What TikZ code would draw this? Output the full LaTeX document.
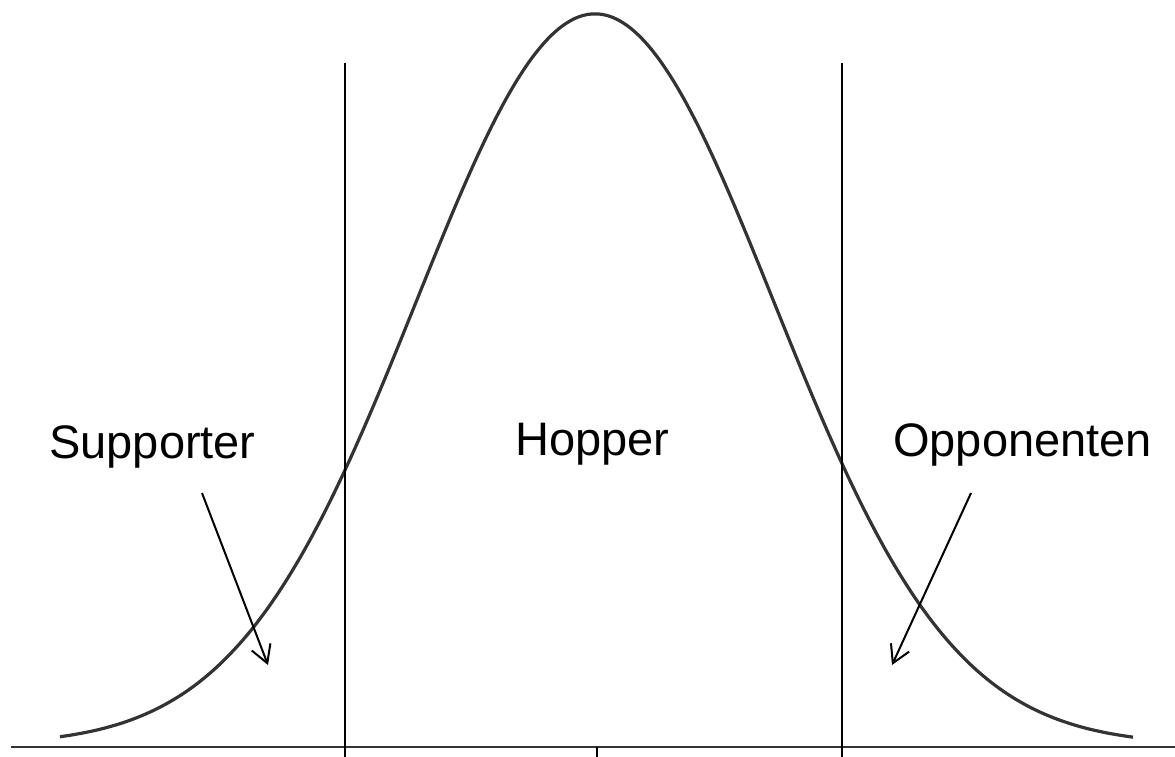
\documentclass[tikz,border=0pt]{standalone}
\usepackage{fontspec}
\setmainfont{Liberation Sans}
\usetikzlibrary{arrows.meta}
\begin{document}
\begin{tikzpicture}[x=0.75pt,y=-0.75pt,
  lbl/.style={anchor=base west,inner sep=0pt,font=\fontsize{35.25}{40}\selectfont},
  curve/.style={draw=black!80,line width=2.4pt,line join=round},
  axis/.style={draw=black!80,line width=2.2pt},
  vline/.style={draw=black,line width=1.6pt},
  pointer/.style={draw=black,line width=1.5pt,-{Straight Barb[length=13pt,width=15pt,line width=1.5pt]}}]
\useasboundingbox (0,0) rectangle (1175,757);
% axis
\coordinate (axL) at (11,747);
\coordinate (axR) at (1175,747);
\draw[axis] (axL) -- (axR);
% bell curve
\draw[curve] plot[domain=60:1133,samples=200,smooth] (\x,{745-731*exp(-((\x-595)/100)^2/6.3906)});
% vertical lines
\coordinate (v1t) at (345,63);
\coordinate (v1b) at (345,757);
\coordinate (v2t) at (842,63);
\coordinate (v2b) at (842,757);
\draw[vline] (v1t) -- (v1b);
\draw[vline] (v2t) -- (v2b);
% centre tick
\coordinate (tt) at (597,747);
\coordinate (tb) at (597,757);
\draw[vline] (tt) -- (tb);
% labels
\node[lbl] (sup) at (49,458) {Supporter};
\node[lbl] (hop) at (515,455) {Hopper};
\node[lbl] (opp) at (893,456) {Opponenten};
% arrows
\coordinate (a1s) at (202,493);
\coordinate (a1e) at (268,665);
\coordinate (a2s) at (971,493);
\coordinate (a2e) at (892,665);
\draw[pointer] (a1s) -- (a1e);
\draw[pointer] (a2s) -- (a2e);
\end{tikzpicture}
\end{document}
